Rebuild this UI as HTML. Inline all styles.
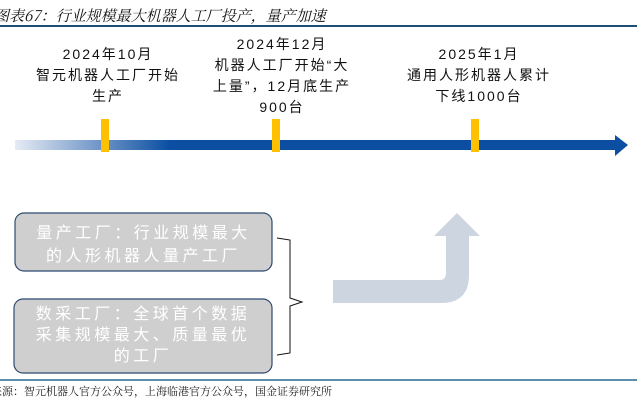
<!DOCTYPE html>
<html><head><meta charset="utf-8"><style>
body{margin:0;width:637px;height:401px;background:#fff;position:relative;overflow:hidden;font-family:"Liberation Sans","Noto Sans CJK SC",sans-serif}
.t{position:absolute;white-space:nowrap;text-align:center;font-size:14px;color:#111;line-height:21px;letter-spacing:2px}
</style></head><body>
<div style="position:absolute;left:-6px;top:5px;font-size:15px;font-style:italic;color:#111;white-space:nowrap;font-family:'Noto Serif CJK SC','Noto Sans CJK SC',serif">图表67：行业规模最大机器人工厂投产，量产加速</div>
<div style="position:absolute;left:0;top:25px;width:637px;height:2px;background:#1f4e79"></div>

<div class="t" style="left:28px;top:44px;width:160px">2024年10月<br>智元机器人工厂开始<br>生产</div>
<div class="t" style="left:197px;top:34px;width:170px;line-height:21px">2024年12月<br>机器人工厂开始“大<br>上量”，12月底生产<br>900台</div>
<div class="t" style="left:399px;top:44px;width:160px">2025年1月<br>通用人形机器人累计<br>下线1000台</div>

<svg style="position:absolute;left:0;top:0" width="637" height="401">
<defs><linearGradient id="g" x1="15" x2="170" y1="0" y2="0" gradientUnits="userSpaceOnUse"><stop offset="0" stop-color="#e6ebf4"/><stop offset="1" stop-color="#0b4ea2"/></linearGradient></defs>
<rect x="15" y="140" width="601" height="10" fill="url(#g)"/>
<polygon points="615,135 628,145 615,156" fill="#0b4ea2"/>
<rect x="101" y="119" width="8" height="33" fill="#ffc000"/>
<rect x="272" y="119" width="8" height="33" fill="#ffc000"/>
<rect x="471" y="119" width="8" height="33" fill="#ffc000"/>
<rect x="15" y="213" width="257" height="58" rx="9" fill="#cfcfcf" stroke="#2f4a70" stroke-width="1.2"/>
<rect x="14" y="299" width="258" height="74" rx="9" fill="#cfcfcf" stroke="#2f4a70" stroke-width="1.2"/>
<path d="M277,238 L290,240 L290,298 L302,302 L290,306 L290,353 L277,355" fill="none" stroke="#111" stroke-width="1"/>
<path d="M333,280 L440,280 Q446,280 446,272 L446,236 L434,236 L457,213 L480,236 L469,236 L469,275 Q469,303 441,303 L333,303 Z" fill="#cdd5e0"/>
<rect x="0" y="379" width="637" height="2" fill="#5b8fb0"/>
</svg>
<div style="position:absolute;left:15px;top:222px;width:257px;text-align:center;color:#fff;font-size:16px;line-height:23px;letter-spacing:3.5px">量产工厂：行业规模最大<br>的人形机器人量产工厂</div>
<div style="position:absolute;left:14px;top:304px;width:258px;text-align:center;color:#fff;font-size:16px;line-height:21px;letter-spacing:3.5px">数采工厂：全球首个数据<br>采集规模最大、质量最优<br>的工厂</div>
<div style="position:absolute;left:-9px;top:383px;font-size:11px;color:#222;white-space:nowrap;font-family:'Noto Serif CJK SC',serif">来源：智元机器人官方公众号，上海临港官方公众号，国金证券研究所</div>
</body></html>
